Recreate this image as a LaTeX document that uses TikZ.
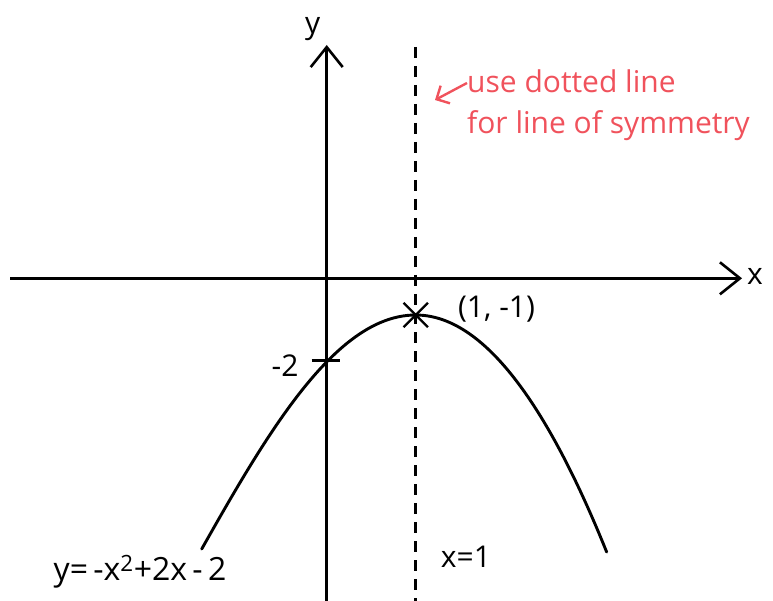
\documentclass[tikz,border=0pt]{standalone}
\usepackage{fontspec}
\setmainfont{Open Sans}
\usepackage{tikz}
\usetikzlibrary{positioning,arrows.meta,shapes.misc}
\definecolor{notered}{RGB}{240,82,92}

\begin{document}
\begin{tikzpicture}[x=1pt, y=-1pt,
  axis/.style={line width=2.6pt, -{Straight Barb[length=20pt, width=32pt]}},
  sym/.style={line width=2.6pt, dash pattern=on 11pt off 8pt},
  curve/.style={line width=2.9pt, line cap=round},
  lab/.style={font=\fontsize{30}{40}\selectfont, inner sep=0pt},
  note/.style={font=\fontsize{30}{41}\selectfont, text=notered, align=left, inner sep=0pt},
  notearr/.style={draw=notered, line width=2.4pt, -{Straight Barb[length=10pt, width=20pt]}}
]
\useasboundingbox (0,0) rectangle (773,601);
\coordinate (xl) at (10,278.3);
\coordinate (xr) at (742,278.3);
\coordinate (yb) at (326.7,601);
\coordinate (yt) at (326.7,45);
\coordinate (st) at (415.7,47);
\coordinate (sb) at (415.7,601);
\coordinate (m2) at (326.7,360.7);
\draw[axis] (xl) -- (xr);
\draw[axis] (yb) -- (yt);
\draw[sym] (st) -- (sb);
\node[lab, right=5pt of xr, yshift=2pt] (xlab) {x};
\node[lab, above=4pt of yt, xshift=-14pt] (ylab) {y};
\draw[line width=2.6pt] ([xshift=-15pt]m2) -- ([xshift=13pt]m2);
\node[lab, left=28pt of m2, yshift=-5pt] (m2lab) {-2};
% vertex at (415.7,315), 100pt per step of t
\draw[curve] plot[domain=-2.14:0, samples=50] ({415.7+100*\x}, {315+60.9*\x*\x-2.14*\x*\x*\x*\x});
\draw[curve] plot[domain=0:1.91, samples=50] ({415.7+100*\x}, {315+65*\x*\x});
\node[cross out, draw, line width=2.4pt, minimum size=22pt, inner sep=0pt] (vtx) at (415.7,315) {};
\node[lab, right=30pt of vtx, yshift=6pt] (vlab) {(1, -1)};
\node[lab] (symlab) at (466,557) {x=1};
\node[lab, font=\fontsize{32}{40}\selectfont] (eqlab) at (140,572) {y=\,-x\textsuperscript{2}+2x\,-\,2};
\node[note, anchor=north west] (nt) at (467,70) {use dotted line\\for line of symmetry};
\coordinate (na) at (435,100);
\draw[notearr] (nt.west |- 0,83) -- (na);
\end{tikzpicture}
\end{document}
